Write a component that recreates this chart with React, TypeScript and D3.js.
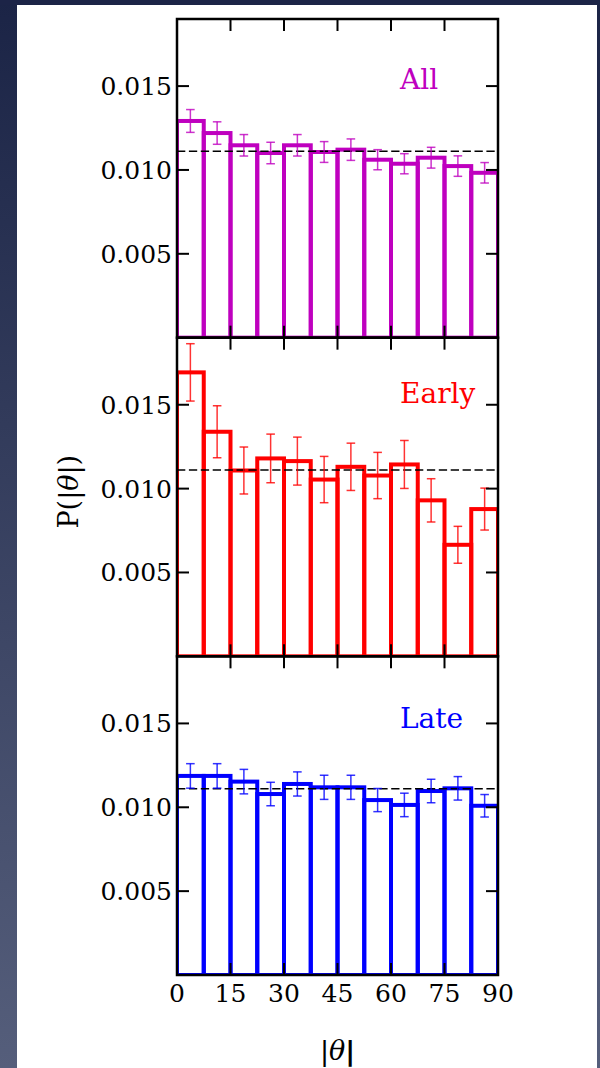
import React from "react";
import * as d3 from "d3";

const binLeft = [0, 7.5, 15, 22.5, 30, 37.5, 45, 52.5, 60, 67.5, 75, 82.5];
const binWidth = 7.5;

const allValues = [0.01292, 0.0122, 0.01147, 0.01101, 0.01147, 0.01107, 0.01121, 0.01061, 0.01037, 0.01073, 0.01023, 0.00983];
const allErrors = [0.00068, 0.00067, 0.00064, 0.00064, 0.00064, 0.00062, 0.00064, 0.0006, 0.0006, 0.00062, 0.00061, 0.00061];
const earlyValues = [0.01693, 0.01339, 0.01108, 0.0118, 0.01164, 0.01054, 0.0113, 0.01078, 0.01144, 0.0093, 0.00665, 0.00878];
const earlyErrors = [0.00171, 0.00155, 0.0014, 0.00145, 0.00143, 0.00138, 0.00141, 0.00138, 0.00143, 0.00129, 0.0011, 0.00125];
const lateValues = [0.01187, 0.01187, 0.01153, 0.01079, 0.01139, 0.01119, 0.01119, 0.01043, 0.01014, 0.01097, 0.01113, 0.01009];
const lateErrors = [0.00073, 0.00073, 0.00073, 0.0007, 0.00072, 0.00072, 0.00072, 0.00069, 0.0007, 0.0007, 0.0007, 0.00067];

const uniformLevel = 1 / 90;
const xTicks = [0, 15, 30, 45, 60, 75, 90];
const yTicks = [0.005, 0.01, 0.015];
const yTickLabels = ["0.005", "0.010", "0.015"];

const panelNames = ["All", "Early", "Late"];
const panelColors = ["#bf00bf", "#ff0000", "#0000ff"];
const panelLabelY = [0.0148, 0.0151, 0.0147];

const W = 600;
const H = 1068;
const left = 177;
const right = 498;
const top = 19;
const bottom = 975;
const panelH = (bottom - top) / 3;
const FONT = "'DejaVu Serif', serif";
const SANS = "'DejaVu Sans', sans-serif";

export default function App() {
  const x = d3.scaleLinear().domain([0, 90]).range([left, right]);
  const series = [
    { v: allValues, e: allErrors },
    { v: earlyValues, e: earlyErrors },
    { v: lateValues, e: lateErrors },
  ];
  const tickLen = 12;

  return (
    <svg
      width={W}
      height={H}
      style={{ position: "absolute", left: 0, top: 0, display: "block" }}
      xmlns="http://www.w3.org/2000/svg"
    >
      <defs>
        <linearGradient id="bgGrad" x1="0" y1="0" x2="0" y2="1">
          <stop offset="0" stopColor="#1b2446" />
          <stop offset="1" stopColor="#555e7b" />
        </linearGradient>
      </defs>
      <rect x={0} y={0} width={W} height={H} fill="url(#bgGrad)" />
      <rect x={0} y={0} width={W} height={5} fill="#1c2447" />
      <rect x={17} y={5} width={580} height={H - 5} fill="#ffffff" />

      {series.map((s, pi) => {
        const pTop = top + pi * panelH;
        const pBot = pTop + panelH;
        const y = d3.scaleLinear().domain([0, 0.019]).range([pBot, pTop]);
        const color = panelColors[pi];
        return (
          <g key={pi}>
            <defs>
              <clipPath id={`clip${pi}`}>
                <rect x={left} y={pTop} width={right - left} height={panelH} />
              </clipPath>
            </defs>
            <g clipPath={`url(#clip${pi})`}>
              {binLeft.map((b, i) => (
                <rect
                  key={i}
                  x={x(b)}
                  y={y(s.v[i])}
                  width={x(b + binWidth) - x(b)}
                  height={y(0) - y(s.v[i])}
                  fill="none"
                  stroke={color}
                  strokeWidth={4}
                />
              ))}
            </g>
            <line
              x1={left}
              x2={right}
              y1={y(uniformLevel)}
              y2={y(uniformLevel)}
              stroke="#000"
              strokeWidth={1.5}
              strokeDasharray="8.3,3.6"
            />
            {binLeft.map((b, i) => {
              const cx = x(b + binWidth / 2);
              const y1 = y(s.v[i] + s.e[i]);
              const y2 = y(s.v[i] - s.e[i]);
              return (
                <g key={i} stroke={color} strokeWidth={1.5} strokeOpacity={0.8}>
                  <line x1={cx} x2={cx} y1={y1} y2={y2} />
                  <line x1={cx - 4.3} x2={cx + 4.3} y1={y1} y2={y1} />
                  <line x1={cx - 4.3} x2={cx + 4.3} y1={y2} y2={y2} />
                </g>
              );
            })}
            {xTicks.map((t) => (
              <g key={t} stroke="#000" strokeWidth={2}>
                <line x1={x(t)} x2={x(t)} y1={pTop} y2={pTop + tickLen} />
                <line x1={x(t)} x2={x(t)} y1={pBot} y2={pBot - tickLen} />
              </g>
            ))}
            {yTicks.map((t, i) => (
              <g key={t}>
                <line x1={left} x2={left + tickLen} y1={y(t)} y2={y(t)} stroke="#000" strokeWidth={2} />
                <line x1={right} x2={right - tickLen} y1={y(t)} y2={y(t)} stroke="#000" strokeWidth={2} />
                <text
                  x={left - 5}
                  y={y(t)}
                  dy="0.36em"
                  textAnchor="end"
                  fontFamily={FONT}
                  fontSize={25}
                  fill="#000"
                >
                  {yTickLabels[i]}
                </text>
              </g>
            ))}
            <rect
              x={left}
              y={pTop}
              width={right - left}
              height={panelH}
              fill="none"
              stroke="#000"
              strokeWidth={2.5}
            />
            <text
              x={400}
              y={y(panelLabelY[pi])}
              fontFamily={FONT}
              fontSize={28}
              fill={color}
            >
              {panelNames[pi]}
            </text>
          </g>
        );
      })}

      {xTicks.map((t) => (
        <text
          key={t}
          x={x(t)}
          y={1002}
          textAnchor="middle"
          fontFamily={FONT}
          fontSize={25}
          fill="#000"
        >
          {t}
        </text>
      ))}

      <text
        x={0}
        y={0}
        transform={`translate(78,491.7) rotate(-90)`}
        textAnchor="middle"
        fontFamily={FONT}
        fontSize={27}
        fill="#000"
      >
        P(<tspan fontFamily={SANS}>|</tspan>
        <tspan fontStyle="italic">θ</tspan>
        <tspan fontFamily={SANS}>|</tspan>)
      </text>
      <text
        x={(left + right) / 2}
        y={1060}
        textAnchor="middle"
        fontFamily={FONT}
        fontSize={27}
        fill="#000"
      >
        <tspan fontFamily={SANS}>|</tspan>
        <tspan fontStyle="italic">θ</tspan>
        <tspan fontFamily={SANS} fontWeight="bold">|</tspan>
      </text>
      <rect x={597} y={0} width={3} height={H} fill="url(#bgGrad)" />
    </svg>
  );
}
